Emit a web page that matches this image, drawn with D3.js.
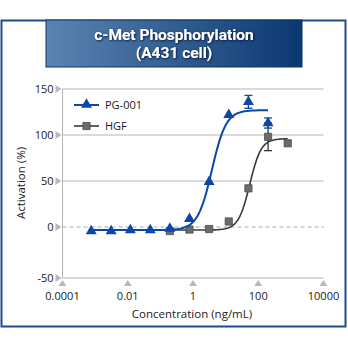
<!DOCTYPE html>
<html>
<head>
<meta charset="UTF-8">
<title>c-Met Phosphorylation</title>
<script src="https://cdn.jsdelivr.net/npm/d3@7"></script>
<style>
body { margin:0; background:#fff; }
text { font-family: "Open Sans", "Noto Sans", sans-serif; }
.tick-label { font-size:11px; fill:#1a1a1a; }
.axis-title { font-size:11.5px; fill:#1a1a1a; }
.banner { font-family: Roboto, "Liberation Sans", sans-serif; font-weight:bold; font-size:15.5px; fill:#fff; }
</style>
</head>
<body>
<svg id="chart" width="348" height="348"></svg>
<script>
var pgConc = [0.00076, 0.0031, 0.012, 0.049, 0.195, 0.78, 3.125, 12.5, 50, 200];
var pgAct  = [-4, -4, -3, -3, -1.5, 9, 49, 122, 136, 113];
var pgErr  = [0, 0, 0, 0, 0, 0, 0, 0, 7, 5.5];

var hgfConc = [0.195, 0.78, 3.125, 12.5, 50, 200, 800];
var hgfAct  = [-4, -2.5, -2, 6, 42, 98, 91];
var hgfErr  = [0, 0, 0, 0, 0, 15, 0];

// 4-parameter logistic fit: bottom, top, EC50, hill, drawn range
var pgFit  = {bottom:-3, top:127, ec50:3.8, hill:2.0, from:0.00076, to:200};
var hgfFit = {bottom:-3, top:96, ec50:55, hill:2.5, from:0.195, to:800};

var xTicks = [0.0001, 0.01, 1, 100, 10000];
var xTickLabels = ["0.0001", "0.01", "1", "100", "10000"];
var yTicks = [-50, 0, 50, 100, 150];

var svg = d3.select("#chart");

// outer frame
svg.append("rect").attr("x", 1.5).attr("y", 20.5).attr("width", 344).attr("height", 306)
   .attr("fill", "#fff").attr("stroke", "#1d4c86").attr("stroke-width", 2);

// title banner
var defs = svg.append("defs");
var grad = defs.append("linearGradient").attr("id", "bannerGrad");
grad.append("stop").attr("offset", "0%").attr("stop-color", "#5a84b2");
grad.append("stop").attr("offset", "100%").attr("stop-color", "#0a3870");
var shadow = defs.append("filter").attr("id", "txtShadow").attr("x", "-10%").attr("y", "-30%").attr("width", "120%").attr("height", "160%");
shadow.append("feDropShadow").attr("dx", 0.8).attr("dy", 0.8).attr("stdDeviation", 0.8).attr("flood-color", "#001030").attr("flood-opacity", 0.9);

svg.append("rect").attr("x", 46).attr("y", 20).attr("width", 256).attr("height", 47)
   .attr("fill", "url(#bannerGrad)").attr("stroke", "#0b3466").attr("stroke-width", 1);
svg.append("text").attr("class", "banner").attr("text-anchor", "middle").attr("filter", "url(#txtShadow)")
   .attr("x", 174).attr("y", 39.5).text("c-Met Phosphorylation");
svg.append("text").attr("class", "banner").attr("text-anchor", "middle").attr("filter", "url(#txtShadow)")
   .attr("x", 174).attr("y", 58).text("(A431 cell)");

// scales
var x = d3.scaleLog().domain([0.0001, 10000]).range([62.5, 323.5]);
var y = d3.scaleLinear().domain([-50, 0, 150]).range([278, 227, 89]);

var plotLeft = x.range()[0], plotRight = x.range()[1];

// gridlines
svg.append("g").selectAll("line").data(yTicks.filter(function(d){ return d > 0; }))
  .join("line")
  .attr("x1", plotLeft).attr("x2", plotRight)
  .attr("y1", function(d){ return y(d); }).attr("y2", function(d){ return y(d); })
  .attr("stroke", "#b4b4b4").attr("stroke-width", 1);
svg.append("line").attr("x1", plotLeft).attr("x2", plotRight)
  .attr("y1", y(0)).attr("y2", y(0))
  .attr("stroke", "#aaaaaa").attr("stroke-dasharray", "4,3");

// axes lines
svg.append("line").attr("x1", plotLeft).attr("x2", plotLeft).attr("y1", y(150)).attr("y2", y(-50))
  .attr("stroke", "#b4b4b4");
svg.append("line").attr("x1", plotLeft).attr("x2", plotRight).attr("y1", y(-50)).attr("y2", y(-50))
  .attr("stroke", "#b4b4b4");

// y ticks: right-pointing triangles
var yAxis = svg.append("g");
yAxis.selectAll("path").data(yTicks).join("path")
  .attr("d", function(d){ var yy = y(d); return "M" + (plotLeft - 7) + "," + (yy - 4) + "L" + (plotLeft - 1) + "," + yy + "L" + (plotLeft - 7) + "," + (yy + 4) + "Z"; })
  .attr("fill", "#b8b8b8");
yAxis.selectAll("text").data(yTicks).join("text")
  .attr("class", "tick-label").attr("text-anchor", "end")
  .attr("x", plotLeft - 9).attr("y", function(d){ return y(d) + 4; })
  .text(function(d){ return d; });

// x ticks: up-pointing triangles
var xAxis = svg.append("g");
xAxis.selectAll("path").data(xTicks).join("path")
  .attr("d", function(d){ var xx = x(d), yy = y(-50); return "M" + (xx - 4) + "," + (yy + 8) + "L" + xx + "," + (yy + 2) + "L" + (xx + 4) + "," + (yy + 8) + "Z"; })
  .attr("fill", "#b8b8b8");
xAxis.selectAll("text").data(xTicks).join("text")
  .attr("class", "tick-label").attr("text-anchor", "middle")
  .attr("x", function(d){ return x(d); }).attr("y", y(-50) + 22)
  .text(function(d, i){ return xTickLabels[i]; });

svg.append("text").attr("class", "axis-title").attr("text-anchor", "middle")
  .attr("x", 192).attr("y", 318).text("Concentration (ng/mL)");
svg.append("text").attr("class", "axis-title").attr("text-anchor", "middle")
  .attr("transform", "translate(25,183) rotate(-90)").text("Activation (%)");

// fitted curves
function fitPoints(f) {
  var lo = Math.log10(f.from), hi = Math.log10(f.to), pts = [];
  for (var i = 0; i <= 120; i++) {
    var c = Math.pow(10, lo + (hi - lo) * i / 120);
    pts.push([c, f.bottom + (f.top - f.bottom) / (1 + Math.pow(f.ec50 / c, f.hill))]);
  }
  return pts;
}
var line = d3.line().x(function(d){ return x(d[0]); }).y(function(d){ return y(d[1]); });

var blue = "#0a47a6", grey = "#6c6c6c";

svg.append("path").attr("d", line(fitPoints(hgfFit))).attr("fill", "none")
  .attr("stroke", "#3a3a3a").attr("stroke-width", 1.6);

function errorBars(conc, act, err, color) {
  var g = svg.append("g").attr("stroke", color).attr("stroke-width", 1.3);
  conc.forEach(function(c, i){
    if (!err[i]) return;
    var xx = x(c), y1 = y(act[i] + err[i]), y2 = y(act[i] - err[i]);
    g.append("line").attr("x1", xx).attr("x2", xx).attr("y1", y1).attr("y2", y2);
    g.append("line").attr("x1", xx - 4).attr("x2", xx + 4).attr("y1", y1).attr("y2", y1);
    g.append("line").attr("x1", xx - 4).attr("x2", xx + 4).attr("y1", y2).attr("y2", y2);
  });
}
errorBars(hgfConc, hgfAct, hgfErr, "#333");

var square = d3.symbol().type(d3.symbolSquare).size(52);
var tri = d3.symbol().type(d3.symbolTriangle).size(52);

svg.append("g").selectAll("path").data(hgfConc).join("path")
  .attr("d", square)
  .attr("transform", function(d, i){ return "translate(" + x(d) + "," + y(hgfAct[i]) + ")"; })
  .attr("fill", grey).attr("stroke", "#4a4a4a").attr("stroke-width", 0.8);

svg.append("path").attr("d", line(fitPoints(pgFit))).attr("fill", "none")
  .attr("stroke", blue).attr("stroke-width", 2);
errorBars(pgConc, pgAct, pgErr, blue);

svg.append("g").selectAll("path").data(pgConc).join("path")
  .attr("d", tri)
  .attr("transform", function(d, i){ return "translate(" + x(d) + "," + y(pgAct[i]) + ")"; })
  .attr("fill", blue);

// legend
var legend = svg.append("g");
legend.append("line").attr("x1", 74).attr("x2", 99).attr("y1", 105).attr("y2", 105)
  .attr("stroke", blue).attr("stroke-width", 2);
legend.append("path").attr("d", tri).attr("transform", "translate(86.5,104.5)").attr("fill", blue);
legend.append("text").attr("class", "tick-label").attr("x", 105).attr("y", 109).text("PG-001");
legend.append("line").attr("x1", 74).attr("x2", 99).attr("y1", 126).attr("y2", 126)
  .attr("stroke", "#3a3a3a").attr("stroke-width", 1.6);
legend.append("path").attr("d", square).attr("transform", "translate(86.5,126)")
  .attr("fill", grey).attr("stroke", "#4a4a4a").attr("stroke-width", 0.8);
legend.append("text").attr("class", "tick-label").attr("x", 105).attr("y", 130).text("HGF");
</script>
</body>
</html>
